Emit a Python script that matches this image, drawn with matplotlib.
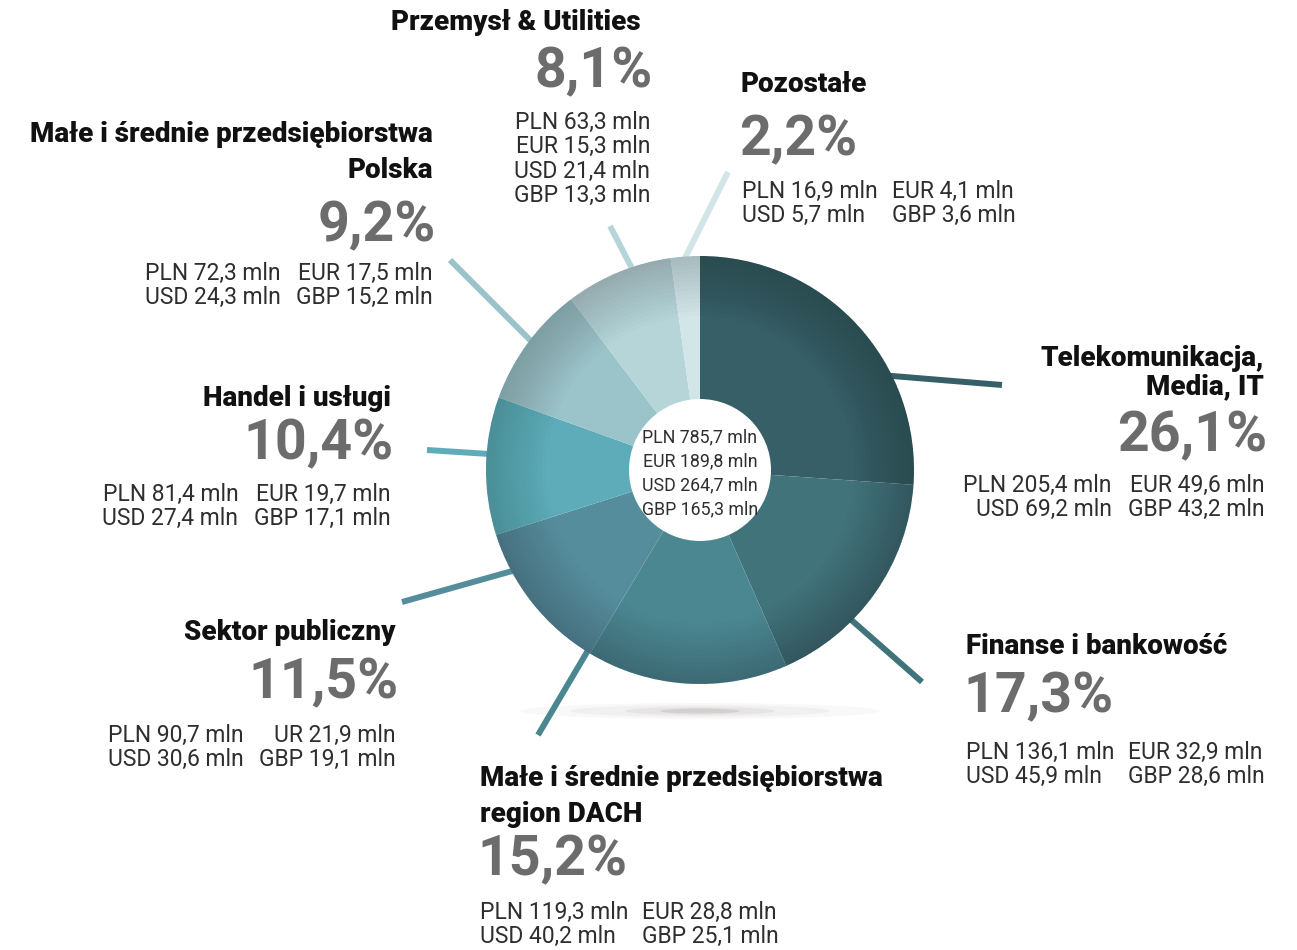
import matplotlib
matplotlib.use("Agg")
import matplotlib.pyplot as plt
from matplotlib.patches import Circle, Ellipse, Wedge

# data
categories = ["Telekomunikacja,\nMedia, IT", "Finanse i bankowość",
              "Małe i średnie przedsiębiorstwa\nregion DACH", "Sektor publiczny",
              "Handel i usługi", "Małe i średnie przedsiębiorstwa\nPolska",
              "Przemysł & Utilities", "Pozostałe"]
shares = [26.1, 17.3, 15.2, 11.5, 10.4, 9.2, 8.1, 2.2]
pln = [205.4, 136.1, 119.3, 90.7, 81.4, 72.3, 63.3, 16.9]
eur = [49.6, 32.9, 28.8, 21.9, 19.7, 17.5, 15.3, 4.1]
usd = [69.2, 45.9, 40.2, 30.6, 27.4, 24.3, 21.4, 5.7]
gbp = [43.2, 28.6, 25.1, 19.1, 17.1, 15.2, 13.3, 3.6]
eur_codes = ["EUR", "EUR", "EUR", "UR", "EUR", "EUR", "EUR", "EUR"]
totals = [("PLN", 785.7), ("EUR", 189.8), ("USD", 264.7), ("GBP", 165.3)]

colors = ["#365f67", "#41737b", "#4b8791", "#558d9c", "#5eacba",
          "#9ac4ca", "#b6d5d9", "#d2e5e8"]

# layout (pixels, y measured from top)
W, H = 1297, 950
cx, cy, R, r_hole = 700, 470, 214, 71
label_x = [1264, 966, 480, 396, 391, 433, 650, 742]
label_ha = ["right", "left", "left", "right", "right", "right", "right", "left"]
title_dx = [0, 0, 0, 0, 0, 0, -9, -2]
title_y = [359, 647, 779, 633, 398, 134, 22, 85]
title_gap = [28, 0, 36, 0, 0, 36, 0, 0]
pct_y = [436, 697, 860, 683, 444, 226, 72, 140]
vals_y = [485, 752, 912, 735, 494, 273, 122, 191]
leader_out = [(1002, 385), (922, 682), (538, 735), (402, 602),
              (427, 450), (450, 260), (610, 226), (728, 172)]
leader_in = [(880, 375), (840, 610), (600, 630), (530, 566),
             (505, 455), (545, 355), (638, 280), (680, 268)]

FONT = "Roboto"
TITLE_C, PCT_C, VAL_C = "#111111", "#6c6c6c", "#2e2e2e"


def Y(y):
    return H - y


def fmt(v):
    return f"{v:.1f}".replace(".", ",")


fig = plt.figure(figsize=(W / 100, H / 100), dpi=100)
ax = fig.add_axes([0, 0, 1, 1])

# shadow under the pie
for w, h, a in [(360, 16, 0.04), (260, 12, 0.05), (150, 8, 0.08), (80, 5, 0.15)]:
    ax.add_patch(Ellipse((cx, Y(711)), w, h, color="#6b5f5f", alpha=a, lw=0, zorder=1))

# leader lines (behind the pie)
for (xo, yo), (xi, yi), c in zip(leader_out, leader_in, colors):
    ax.plot([xi, xo], [Y(yi), Y(yo)], color=c, lw=4.3, solid_capstyle="butt", zorder=2)

# pie
wedges, _ = ax.pie(shares, colors=colors, startangle=90, counterclock=False,
                   radius=R, center=(cx, Y(cy)), frame=True,
                   wedgeprops=dict(linewidth=0))
for w in wedges:
    w.set_zorder(3)
# darker rim to fake the shading
for k in range(14):
    ax.add_patch(Wedge((cx, Y(cy)), R, 0, 360, width=R * (0.02 + 0.02 * k),
                       color="black", alpha=0.012, lw=0, zorder=4))
ax.set_xlim(0, W)
ax.set_ylim(0, H)
ax.set_aspect("equal")
ax.axis("off")

ax.add_patch(Circle((cx, Y(cy)), r_hole, color="white", lw=0, zorder=5))
for i, (code, v) in enumerate(totals):
    ax.text(cx, Y(437 + 24 * i), f"{code} {fmt(v)} mln", ha="center", va="center",
            fontsize=12.8, family=FONT, color=VAL_C, zorder=6)

# labels
fig.canvas.draw()
renderer = fig.canvas.get_renderer()
for i, name in enumerate(categories):
    x, ha = label_x[i], label_ha[i]
    for j, line in enumerate(name.split("\n")):
        ax.text(x + title_dx[i], Y(title_y[i] + title_gap[i] * j), line, ha=ha, va="center",
                fontsize=20, family=FONT, fontweight="heavy", color=TITLE_C)
    ax.text(x + (3 if ha == "right" else -3), Y(pct_y[i]), fmt(shares[i]) + "%", ha=ha,
            va="center", fontsize=40, family=FONT, fontweight="bold", color=PCT_C)
    col1 = [f"PLN {fmt(pln[i])} mln", f"USD {fmt(usd[i])} mln"]
    col2 = [f"{eur_codes[i]} {fmt(eur[i])} mln", f"GBP {fmt(gbp[i])} mln"]
    gap = 24.5
    vkw = dict(va="center", fontsize=16.5, family=FONT, color=VAL_C)
    if i == 6:
        for j, line in enumerate([col1[0], col2[0], col1[1], col2[1]]):
            ax.text(x, Y(vals_y[i] + gap * j), line, ha="right", **vkw)
        continue
    if ha == "right":
        t2 = [ax.text(x, Y(vals_y[i] + gap * j), s, ha="right", **vkw) for j, s in enumerate(col2)]
        w2 = max(t.get_window_extent(renderer).width for t in t2)
        for j, s in enumerate(col1):
            ax.text(x - w2 - 16, Y(vals_y[i] + gap * j), s, ha="right", **vkw)
    else:
        t1 = [ax.text(x, Y(vals_y[i] + gap * j), s, ha="left", **vkw) for j, s in enumerate(col1)]
        w1 = max(t.get_window_extent(renderer).width for t in t1)
        for j, s in enumerate(col2):
            ax.text(x + w1 + 14, Y(vals_y[i] + gap * j), s, ha="left", **vkw)

fig.savefig("out.png", dpi=100, facecolor="white")
